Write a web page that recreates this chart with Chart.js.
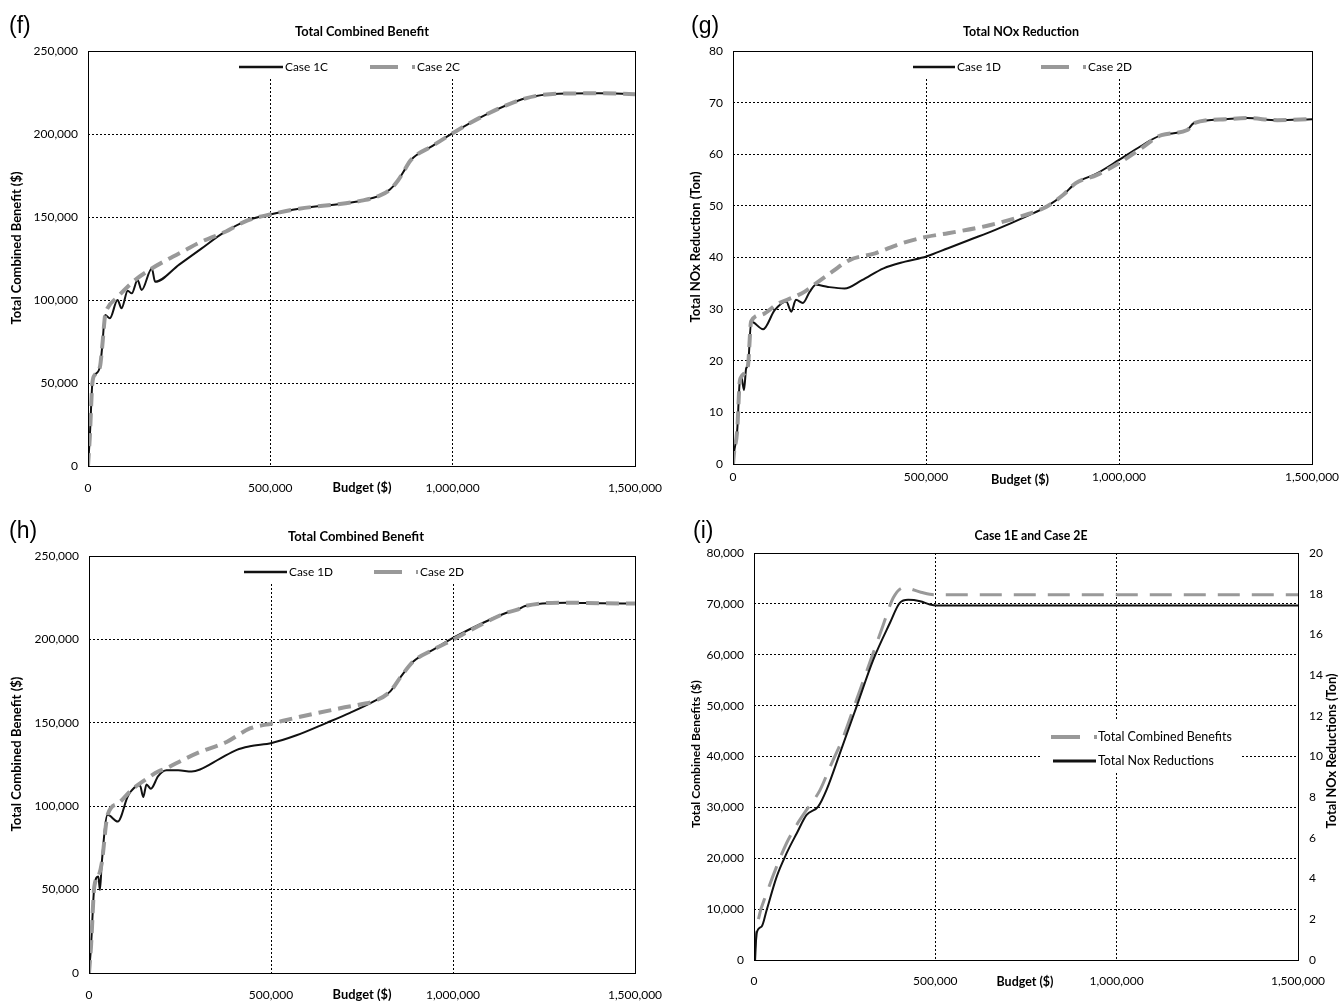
<!DOCTYPE html>
<html>
<head>
<meta charset="utf-8">
<script src="https://cdn.jsdelivr.net/npm/chart.js@4.4.3/dist/chart.umd.min.js"></script>
<style>
  html, body { margin: 0; padding: 0; background: #fff; overflow: hidden; }
  .panel { position: absolute; }
</style>
</head>
<body>
<div class="panel" style="left:0;top:0"><canvas id="cf" width="670" height="500"></canvas></div>
<div class="panel" style="left:670px;top:0"><canvas id="cg" width="671" height="500"></canvas></div>
<div class="panel" style="left:0;top:500px"><canvas id="ch" width="670" height="501"></canvas></div>
<div class="panel" style="left:670px;top:500px"><canvas id="ci" width="671" height="501"></canvas></div>
<script>
// (f) Total Combined Benefit, Case 1C / Case 2C
const fBudget1 = [0, 5000, 12000, 19000, 33000, 39000, 47000, 60000, 81000, 92000, 109000, 120000, 136000, 147000, 175000, 184000,
  250000, 310000, 375000, 438000, 499000, 579000, 696000, 754000, 801000, 828000, 850000, 870000, 884000, 946000, 1000000,
  1090000, 1200000, 1290000, 1400000, 1500000];
const fCase1C = [0, 17600, 50000, 55000, 60000, 72000, 91000, 89000, 100000, 95000, 105500, 104000, 112000, 106000, 119000, 111000,
  121300, 130800, 141000, 148000, 151500, 155000, 158000, 160000, 163000, 166500, 172000, 179000, 184000, 193000, 200500,
  211500, 221500, 224300, 224500, 224000];
const fBudget2 = [0, 5000, 12000, 19000, 33000, 39000, 47000, 51000, 82000, 129000, 175000, 219000, 266000, 309000, 343000, 375000,
  438000, 499000, 579000, 696000, 754000, 801000, 828000, 850000, 870000, 884000, 946000, 1000000, 1090000, 1200000, 1290000,
  1400000, 1500000];
const fCase2C = [0, 17600, 50000, 55000, 60000, 72000, 91000, 94000, 102000, 112000, 119000, 124500, 130000, 135000, 138000, 141000,
  148000, 151500, 155000, 158000, 160000, 163000, 166500, 172000, 179000, 184000, 193000, 200500, 211500, 221500, 224300,
  224500, 224000];

// (g) Total NOx Reduction, Case 1D / Case 2D
const gBudget1 = [0, 2600, 11000, 17000, 21600, 28500, 34000, 39000, 47000, 78000, 108000, 138000, 151000, 163000, 181000, 199000, 215000,
  246000, 289000, 334000, 390000, 446000, 501000, 557000, 612000, 678000, 767000, 811000, 855000, 888000, 943000, 1000000, 1055000,
  1110000, 1177000, 1193000, 1276000, 1332000, 1410000, 1500000];
const gCase1D = [0, 2.1, 6.6, 15.6, 16.9, 14.3, 18.5, 19.2, 27.6, 26.1, 29.8, 31.5, 29.5, 31.8, 31.2, 33.4, 34.7,
  34.3, 34.0, 35.6, 37.9, 39.2, 40.2, 41.8, 43.4, 45.3, 48.2, 49.8, 52.1, 54.4, 56.3, 58.9, 61.5,
  63.7, 64.7, 66, 66.8, 67, 66.6, 66.8];
const gBudget2 = [0, 2600, 11000, 17000, 21600, 30000, 39000, 47000, 73000, 117000, 160000, 186000, 215000, 258000, 302000, 368000,
  435000, 501000, 557000, 667000, 756000, 811000, 855000, 888000, 943000, 1000000, 1055000, 1110000, 1177000, 1193000, 1276000,
  1332000, 1410000, 1500000];
const gCase2D = [0, 2.1, 6.6, 15.6, 16.9, 17.6, 19.2, 27.6, 28.9, 31.1, 32.4, 33.4, 35, 37.3, 39.5, 40.8,
  42.7, 44, 44.7, 46.3, 48.2, 49.8, 52.1, 54.4, 56, 58.3, 61, 63.7, 64.7, 66, 66.8,
  67, 66.6, 66.8];

// (h) Total Combined Benefit, Case 1D / Case 2D
const hBudget1 = [0, 5500, 14600, 25600, 30000, 35000, 51000, 79000, 108000, 140000, 149000, 158000, 170000, 190000, 213000,
  245000, 282000, 305000, 360000, 406000, 442000, 502000, 570000, 653000, 717000, 781000, 827000, 854000, 891000, 946000,
  1001000, 1083000, 1147000, 1179000, 1198000, 1312000, 1404000, 1500000];
const hCase1D = [0, 15800, 51800, 57800, 49800, 65800, 94800, 90800, 106500, 112500, 105500, 113000, 110500, 118000, 121500,
  121500, 120800, 122000, 128500, 133800, 135900, 137900, 142500, 150000, 156000, 162700, 168700, 176800, 186800, 193900,
  201000, 210000, 216000, 218000, 220000, 222000, 221700, 221500];
const hBudget2 = [0, 5500, 14600, 25600, 35000, 51000, 80600, 117000, 154000, 190000, 213000, 260000, 305000, 378000, 442000,
  502000, 580000, 690000, 763000, 781000, 827000, 854000, 891000, 946000, 1001000, 1083000, 1147000, 1179000, 1198000,
  1312000, 1404000, 1500000];
const hCase2D = [0, 15800, 51800, 57800, 65800, 94800, 101800, 109800, 115800, 120800, 122800, 128000, 132500, 138500, 146600,
  149600, 153600, 158700, 161700, 162700, 168700, 176800, 186800, 193900, 200000, 209500, 216000, 218000, 220000,
  222000, 221700, 221500];

// (i) Case 1E and Case 2E
const iBudget2 = [0, 12000, 35000, 62600, 90000, 118000, 145000, 182000, 210000, 246000, 283000, 320000, 356000, 384000, 413000,
  460000, 499000, 1000000, 1500000];
const iBenefits = [1400, 7900, 13100, 18400, 23000, 26600, 29500, 33400, 38000, 43800, 51200, 58600, 65800, 71200, 73200,
  72300, 71800, 71800, 71800];
const iBudget1 = [3000, 7000, 21000, 35000, 62600, 90000, 118000, 145000, 177000, 200000, 237000, 283000, 329000, 375000, 402000,
  425000, 458000, 485000, 504000, 1000000, 1500000];
const iNox = [0, 1.31, 1.64, 2.46, 4.1, 5.25, 6.23, 7.13, 7.54, 8.36, 10.17, 12.46, 14.76, 16.57, 17.55,
  17.7, 17.63, 17.47, 17.42, 17.42, 17.42];

const budgetTicks = [0, 500000, 1000000, 1500000];

const GRAY = "#999999";
const fmt = (v) => String(v).replace(/\B(?=(\d{3})+(?!\d))/g, ",");
const zip = (xs, ys) => xs.map((x, i) => ({ x, y: ys[i] }));

Chart.defaults.font.family = "Lato";
Chart.defaults.font.size = 12;
Chart.defaults.color = "#000";

// règle la taille de police pour tomber sur la largeur mesurée dans la figure
function fitFont(ctx, text, weight, width) {
  ctx.font = `${weight} 20px Lato`;
  const size = (20 * width) / ctx.measureText(text).width;
  ctx.font = `${weight} ${size.toFixed(2)}px Lato`;
}

// titres, légendes et cadre dessinés à la main (positions façon Excel)
const decor = {
  id: "decor",
  beforeDatasetsDraw(chart, args, o) {
    if (!o.box) return;
    const { ctx, chartArea: a } = chart;
    const b = o.box;
    const x1 = b.x1 ?? a.left + 1, x2 = b.x2 ?? a.right - 1;
    const y1 = b.y1 ?? a.top + 1, y2 = b.y2;
    ctx.save();
    ctx.fillStyle = "#fff";
    ctx.fillRect(x1, y1, x2 - x1, y2 - y1);
    ctx.restore();
  },
  afterDraw(chart, args, o) {
    if (!o.title) return;
    const { ctx, chartArea: a } = chart;
    ctx.save();
    ctx.strokeStyle = "#000";
    ctx.lineWidth = 1;
    ctx.setLineDash([]);
    ctx.strokeRect(Math.round(a.left) + 0.5, Math.round(a.top) + 0.5, Math.round(a.width), Math.round(a.height));

    ctx.fillStyle = "#000";
    ctx.textBaseline = "middle";

    ctx.textAlign = "left";
    ctx.font = '23px "Liberation Sans"';
    ctx.fillText(o.label.text, o.label.x, o.label.y);

    ctx.textAlign = "center";
    fitFont(ctx, o.title.text, "bold", o.title.w);
    ctx.fillText(o.title.text, o.title.x, o.title.y);
    fitFont(ctx, "Budget ($)", "bold", o.xTitle.w);
    ctx.fillText("Budget ($)", o.xTitle.x, o.xTitle.y);

    for (const t of o.yTitles) {
      ctx.save();
      ctx.translate(t.x, t.y);
      ctx.rotate(-Math.PI / 2);
      fitFont(ctx, t.text, "bold", t.w);
      ctx.fillText(t.text, 0, 0);
      ctx.restore();
    }

    ctx.textAlign = "left";
    for (const it of o.legend) {
      ctx.save();
      ctx.strokeStyle = it.color;
      ctx.lineWidth = it.width;
      ctx.setLineDash(it.dash || []);
      ctx.beginPath();
      ctx.moveTo(it.x1, it.y);
      ctx.lineTo(it.x2, it.y);
      ctx.stroke();
      ctx.restore();
      fitFont(ctx, it.text, "normal", it.w);
      ctx.fillText(it.text, it.tx, it.y);
    }
    ctx.restore();
  },
};
Chart.register(decor);

function xAxis(h, gap) {
  return {
    type: "linear",
    min: 0,
    max: 1500000,
    border: { display: false, dash: [2, 2] },
    // marque de graduation invisible = écart entre l'axe et les libellés
    grid: { color: "#000", drawTicks: true, tickLength: gap, tickColor: "rgba(0,0,0,0)" },
    afterBuildTicks: (s) => { s.ticks = budgetTicks.map((v) => ({ value: v })); },
    ticks: { padding: 0, maxRotation: 0, autoSkip: false, callback: fmt },
    afterFit: (s) => { s.height = h; },
  };
}

function yAxis(max, step, w, pad, position, grid) {
  return {
    type: "linear",
    position,
    min: 0,
    max,
    border: { display: false, dash: [2, 2] },
    grid: { display: grid, color: "#000", drawTicks: false },
    ticks: { stepSize: step, padding: pad, callback: fmt },
    afterFit: (s) => { s.width = w; },
  };
}

function blackLine(label, xs, ys, axis) {
  return {
    label, data: zip(xs, ys), yAxisID: axis || "y",
    borderColor: "#111", borderWidth: 2, pointRadius: 0,
    cubicInterpolationMode: "monotone", order: 1,
  };
}

function grayLine(label, xs, ys, axis, dash, width) {
  return {
    label, data: zip(xs, ys), yAxisID: axis || "y",
    borderColor: GRAY, borderWidth: width, borderDash: dash, borderCapStyle: "butt",
    pointRadius: 0, cubicInterpolationMode: "monotone", order: 0,
  };
}

function makeChart(id, datasets, scales, padding, deco) {
  return new Chart(document.getElementById(id), {
    type: "line",
    data: { datasets },
    options: {
      responsive: false,
      animation: false,
      layout: { padding },
      plugins: { legend: { display: false }, tooltip: { enabled: false }, decor: deco },
      scales,
    },
  });
}

// (f)
makeChart("cf",
  [blackLine("Case 1C", fBudget1, fCase1C), grayLine("Case 2C", fBudget2, fCase2C, "y", [13, 7], 4)],
  { x: xAxis(34, 15), y: yAxis(250000, 50000, 88, 10, "left", true) },
  { left: 0, top: 51, right: 35, bottom: 0 },
  {
    label: { text: "(f)", x: 9, y: 27 },
    title: { text: "Total Combined Benefit", x: 362, y: 32, w: 134 },
    xTitle: { x: 362, y: 488, w: 59 },
    yTitles: [{ text: "Total Combined Benefit ($)", x: 17, y: 248, w: 153 }],
    box: { y2: 77 },
    legend: [
      { text: "Case 1C", x1: 239, x2: 283, y: 67, tx: 285, w: 43, color: "#111", width: 2.5 },
      { text: "Case 2C", x1: 370, x2: 415, y: 67, tx: 417, w: 43, color: GRAY, width: 4, dash: [28, 14] },
    ],
  });

// (g)
makeChart("cg",
  [blackLine("Case 1D", gBudget1, gCase1D), grayLine("Case 2D", gBudget2, gCase2D, "y", [13, 7], 4)],
  { x: xAxis(36, 6), y: yAxis(80, 10, 63, 10, "left", true) },
  { left: 0, top: 51, right: 29, bottom: 0 },
  {
    label: { text: "(g)", x: 21, y: 27 },
    title: { text: "Total NOx Reduction", x: 351, y: 32, w: 116 },
    xTitle: { x: 350, y: 480, w: 58 },
    yTitles: [{ text: "Total NOx Reduction (Ton)", x: 26, y: 247, w: 151 }],
    box: { y2: 77 },
    legend: [
      { text: "Case 1D", x1: 243, x2: 285, y: 67, tx: 287, w: 44, color: "#111", width: 2.5 },
      { text: "Case 2D", x1: 371, x2: 416, y: 67, tx: 418, w: 44, color: GRAY, width: 4, dash: [28, 14] },
    ],
  });

// (h)
makeChart("ch",
  [blackLine("Case 1D", hBudget1, hCase1D), grayLine("Case 2D", hBudget2, hCase2D, "y", [13, 7], 4)],
  { x: xAxis(28, 15), y: yAxis(250000, 50000, 89, 10, "left", true) },
  { left: 0, top: 56, right: 35, bottom: 0 },
  {
    label: { text: "(h)", x: 9, y: 32 },
    title: { text: "Total Combined Benefit", x: 356, y: 37, w: 136 },
    xTitle: { x: 362, y: 495, w: 59 },
    yTitles: [{ text: "Total Combined Benefit ($)", x: 17, y: 254, w: 155 }],
    box: { y2: 83 },
    legend: [
      { text: "Case 1D", x1: 244, x2: 287, y: 72, tx: 289, w: 44, color: "#111", width: 2.5 },
      { text: "Case 2D", x1: 374, x2: 418, y: 72, tx: 420, w: 44, color: GRAY, width: 4, dash: [28, 14] },
    ],
  });

// (i)
const iBlack = blackLine("Total Nox Reductions", iBudget1, iNox, "y2");
iBlack.order = 0;
const iGray = grayLine("Total Combined Benefits", iBudget2, iBenefits, "y", [22, 12], 3);
iGray.order = 1;
makeChart("ci",
  [iGray, iBlack],
  {
    x: xAxis(41, 14),
    y: yAxis(80000, 10000, 84, 10, "left", true),
    y2: yAxis(20, 2, 43, 11, "right", false),
  },
  { left: 0, top: 53, right: 0, bottom: 0 },
  {
    label: { text: "(i)", x: 23, y: 32 },
    title: { text: "Case 1E and Case 2E", x: 361, y: 36, w: 113 },
    xTitle: { x: 355, y: 482, w: 57 },
    yTitles: [
      { text: "Total Combined Benefits ($)", x: 26, y: 254, w: 148 },
      { text: "Total NOx Reductions (Ton)", x: 662, y: 251, w: 155 },
    ],
    box: { x1: 372, x2: 572, y1: 220, y2: 273 },
    legend: [
      { text: "Total Combined Benefits", x1: 381, x2: 427, y: 237, tx: 428, w: 134, color: GRAY, width: 4, dash: [29, 14] },
      { text: "Total Nox Reductions", x1: 383, x2: 426, y: 261, tx: 428, w: 116, color: "#111", width: 3 },
    ],
  });
</script>
</body>
</html>
